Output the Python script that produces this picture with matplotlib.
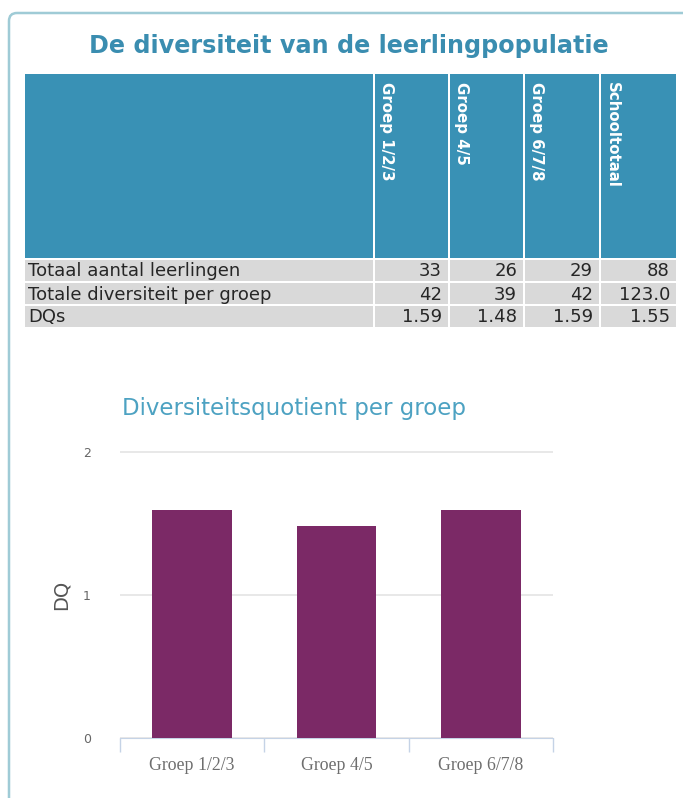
import matplotlib
matplotlib.use("Agg")
import matplotlib.pyplot as plt
from matplotlib.patches import Rectangle, FancyBboxPatch

# data
title = "De diversiteit van de leerlingpopulatie"
col_labels = ["Groep 1/2/3", "Groep 4/5", "Groep 6/7/8", "Schooltotaal"]
row_labels = ["Totaal aantal leerlingen", "Totale diversiteit per groep", "DQs"]
row_values = [
    ["33", "26", "29", "88"],
    ["42", "39", "42", "123.0"],
    ["1.59", "1.48", "1.59", "1.55"],
]
groups = ["Groep 1/2/3", "Groep 4/5", "Groep 6/7/8"]
dq = [1.59, 1.48, 1.59]

blue = "#3991b5"
purple = "#7b2966"

fig = plt.figure(figsize=(6.83, 7.98), dpi=100)

# overlay in pixel coordinates for the panel and the table
bg = fig.add_axes([0, 0, 1, 1])
bg.set_xlim(0, 683)
bg.set_ylim(798, 0)
bg.axis("off")

bg.add_patch(FancyBboxPatch((9, 13), 700, 820, boxstyle="round,pad=0,rounding_size=8",
                            fc="white", ec="#9fcbd6", lw=1.8))
bg.text(349, 46, title, ha="center", va="center", fontsize=17.2, fontweight="bold",
        color="#3a8db0")

# table layout
col_edges = [25, 373, 448, 523, 599, 676]
head_top, head_bot = 74, 258
row_h = 23
gap = 2

for i in range(len(col_edges) - 1):
    x0 = col_edges[i] + (gap if i else 0)
    x1 = col_edges[i + 1]
    bg.add_patch(Rectangle((x0, head_top), x1 - x0, head_bot - head_top, fc=blue, ec="none"))
    if i > 0:
        bg.text(x0 + 4, head_top + 8, col_labels[i - 1], rotation=-90, ha="left", va="bottom",
                rotation_mode="anchor", fontsize=10.8, fontweight="bold", color="white")

for r, lab in enumerate(row_labels):
    y0 = head_bot + gap + r * row_h
    for i in range(len(col_edges) - 1):
        x0 = col_edges[i] + (gap if i else 0)
        x1 = col_edges[i + 1]
        bg.add_patch(Rectangle((x0, y0), x1 - x0, row_h - gap, fc="#d9d9d9", ec="none"))
    yc = y0 + (row_h - gap) / 2 + 1
    bg.text(28, yc, lab, ha="left", va="center", fontsize=13, color="#262626")
    for i, v in enumerate(row_values[r]):
        bg.text(col_edges[i + 2] - 6, yc, v, ha="right", va="center", fontsize=13, color="#262626")

# bar chart
ax = fig.add_axes([120 / 683, 1 - 738 / 798, 433 / 683, 287 / 798])
x = range(len(groups))
ax.bar(x, dq, width=0.55, color=purple, zorder=3)
ax.set_xlim(-0.5, len(groups) - 0.5)
ax.set_ylim(0, 2.005)
ax.set_yticks([0, 1, 2])
ax.yaxis.grid(True, color="#e6e6e6", lw=1.3, zorder=0)
ax.set_axisbelow(True)
for s in ["top", "right", "left"]:
    ax.spines[s].set_visible(False)
ax.spines["bottom"].set_color("#c5d3e6")
ax.spines["bottom"].set_clip_on(False)
ax.tick_params(axis="y", length=0, pad=21, labelsize=9, labelcolor="#666666")
ax.set_xticks([-0.5, 0.5, 1.5, 2.5], minor=False)
ax.set_xticklabels([])
ax.tick_params(axis="x", which="major", length=10, color="#c5d3e6", width=1)
ax.set_xticks(list(x), minor=True)
ax.set_xticklabels(groups, minor=True, family="Liberation Serif", fontsize=12.8, color="#6e6e6e")
ax.tick_params(axis="x", which="minor", length=0, pad=14)
ax.set_ylabel("DQ", fontsize=14, color="#555555", labelpad=9)
ax.set_title("Diversiteitsquotient per groep", loc="left", x=0.005, y=1.095, fontsize=16.5,
             color="#4da2c2")

fig.savefig("out.png", dpi=100)
